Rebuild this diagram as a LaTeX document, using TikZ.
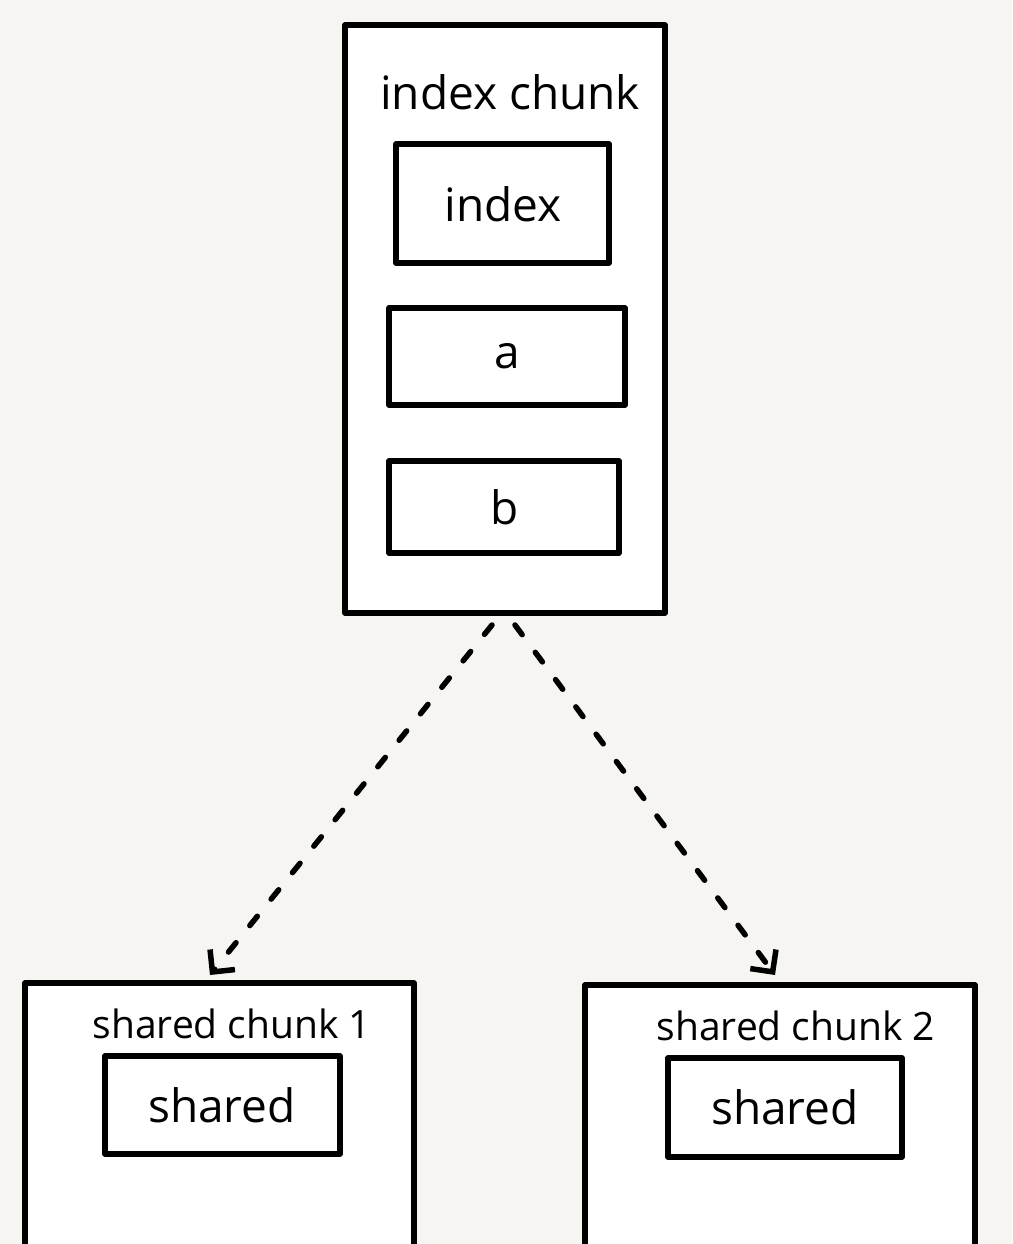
\documentclass[tikz,border=0pt]{standalone}
\usepackage{fontspec}
\setmainfont{Open Sans}
\usetikzlibrary{arrows.meta}
\definecolor{bg}{HTML}{F6F5F1}
\tikzset{
  box/.style={draw=black, fill=white, line width=5.5pt, line join=round},
  lbl/.style={font=\fontsize{46}{48}\selectfont, inner sep=0pt},
  slbl/.style={font=\fontsize{39}{41}\selectfont, inner sep=0pt},
  link/.style={line width=5.5pt, dash pattern=on 12pt off 22pt, line cap=round,
    -{Straight Barb[length=16pt, width=32pt, line width=5.5pt]}},
}
\begin{document}
\begin{tikzpicture}[x=1pt, y=-1pt]
\fill[bg] (0,0) rectangle (1012,1244);
\useasboundingbox (0,0) rectangle (1012,1244);
% top chunk
\draw[box] (345,25) rectangle (665,613);
\coordinate (topA) at (492,625);
\coordinate (topB) at (515,625);
\node[lbl] (tl) at (510,92) {index chunk};
\draw[box] (396,144) rectangle (609,263);
\node[lbl] (idx) at (503,204) {index};
\draw[box] (389,308) rectangle (625,405);
\node[lbl] (a) at (507,356) {a};
\draw[box] (389,461) rectangle (619,553);
\node[lbl] (b) at (505,507) {b};
% bottom chunks
\draw[box] (25,983) rectangle (414,1260);
\node[slbl] (s1l) at (232,1024) {shared chunk 1};
\draw[box] (105,1056) rectangle (340,1154);
\node[lbl] (s1) at (222,1105) {shared};
\coordinate (botA) at (210,975);
\draw[box] (585,985) rectangle (975,1260);
\node[slbl] (s2l) at (796,1026) {shared chunk 2};
\draw[box] (668,1058) rectangle (902,1157);
\node[lbl] (s2) at (785,1107) {shared};
\coordinate (botB) at (775,975);
% connectors
\draw[link] (topA) -- (botA);
\draw[link] (topB) -- (botB);
\end{tikzpicture}
\end{document}
